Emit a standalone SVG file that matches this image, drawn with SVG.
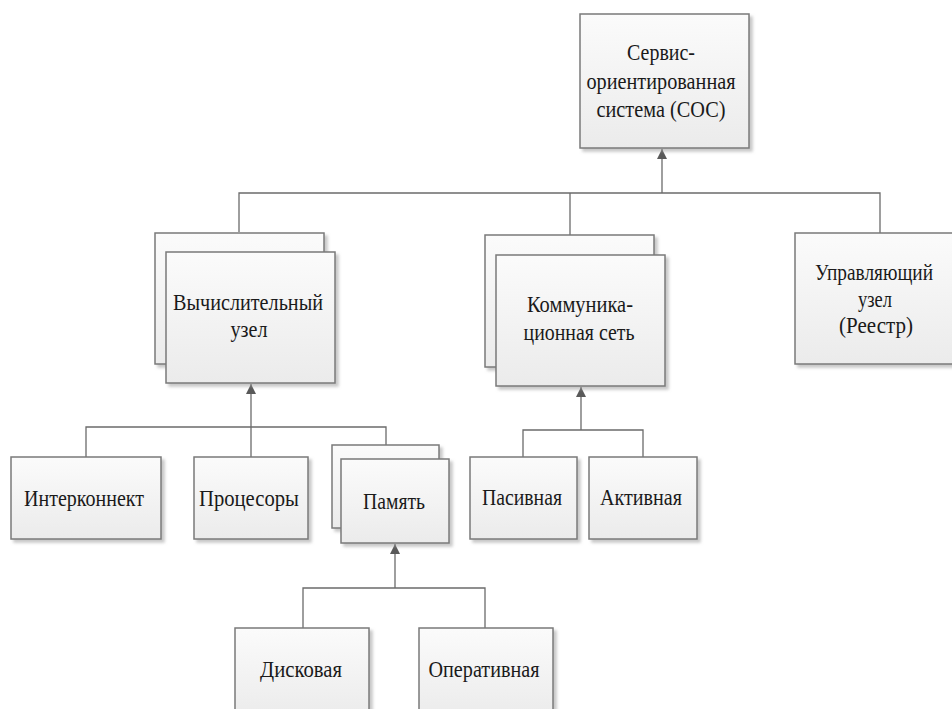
<svg xmlns="http://www.w3.org/2000/svg" width="952" height="709" viewBox="0 0 952 709">
<defs>
<linearGradient id="g" x1="0" y1="0" x2="0" y2="1">
<stop offset="0" stop-color="#fbfbfb"/>
<stop offset="1" stop-color="#ebebeb"/>
</linearGradient>
<filter id="sh" x="-10%" y="-10%" width="130%" height="130%">
<feDropShadow dx="3" dy="3" stdDeviation="1.5" flood-color="#9a9a9a" flood-opacity="0.55"/>
</filter>
<marker id="arr" viewBox="0 0 10 10" refX="10" refY="5" markerWidth="10" markerHeight="10" markerUnits="userSpaceOnUse" orient="auto">
<path d="M0,0 L10,5 L0,10 z" fill="#595959"/>
</marker>
<style>
.box{fill:url(#g);stroke:#7a7a7a;stroke-width:1.5;filter:url(#sh)}
.c{fill:none;stroke:#6b6b6b;stroke-width:1.3}
</style>
</defs>
<rect width="952" height="709" fill="#ffffff"/>
<g id="connectors">
<path class="c" d="M239,232 V193 H880 V233 M570,193 V235"/>
<path class="c" d="M662,193 V149" marker-end="url(#arr)"/>
<path class="c" d="M86,457 V427 H386 V445 M251,457 V427"/>
<path class="c" d="M251,427 V384" marker-end="url(#arr)"/>
<path class="c" d="M523,457 V430 H643 V457"/>
<path class="c" d="M581,430 V387" marker-end="url(#arr)"/>
<path class="c" d="M303,628 V588 H485 V628"/>
<path class="c" d="M395,588 V544" marker-end="url(#arr)"/>
</g>
<g font-family="Liberation Serif, Times New Roman, serif" font-size="23" fill="#1a1a1a" text-anchor="middle">
<g id="soc">
<rect class="box" x="580" y="14" width="169" height="134"/>
<text x="661" y="60" textLength="68" lengthAdjust="spacingAndGlyphs">Сервис-</text>
<text x="661" y="89" textLength="149" lengthAdjust="spacingAndGlyphs">ориентированная</text>
<text x="661" y="117" textLength="129" lengthAdjust="spacingAndGlyphs">система (СОС)</text>
</g>
<g id="compute">
<rect class="box" x="155" y="233" width="169" height="131"/>
<rect class="box" x="166" y="252" width="169" height="131"/>
<text x="248" y="310" textLength="150" lengthAdjust="spacingAndGlyphs">Вычислительный</text>
<text x="249" y="337" textLength="37" lengthAdjust="spacingAndGlyphs">узел</text>
</g>
<g id="network">
<rect class="box" x="485" y="235" width="169" height="132"/>
<rect class="box" x="496" y="255" width="169" height="131"/>
<text x="580" y="312" textLength="106" lengthAdjust="spacingAndGlyphs">Коммуника-</text>
<text x="579" y="340" textLength="111" lengthAdjust="spacingAndGlyphs">ционная сеть</text>
</g>
<g id="control">
<rect class="box" x="795" y="233" width="169" height="131"/>
<text x="874" y="280" textLength="118" lengthAdjust="spacingAndGlyphs">Управляющий</text>
<text x="875" y="307" textLength="34" lengthAdjust="spacingAndGlyphs">узел</text>
<text x="876" y="333" textLength="74" lengthAdjust="spacingAndGlyphs">(Реестр)</text>
</g>
<g id="interconnect">
<rect class="box" x="11" y="457" width="150" height="82"/>
<text x="84" y="506" textLength="120" lengthAdjust="spacingAndGlyphs">Интерконнект</text>
</g>
<g id="cpu">
<rect class="box" x="194" y="457" width="114" height="82"/>
<text x="249" y="506" textLength="100" lengthAdjust="spacingAndGlyphs">Процесоры</text>
</g>
<g id="memory">
<rect class="box" x="332" y="445" width="107" height="83"/>
<rect class="box" x="341" y="459" width="108" height="84"/>
<text x="394" y="509" textLength="62" lengthAdjust="spacingAndGlyphs">Память</text>
</g>
<g id="passive">
<rect class="box" x="470" y="457" width="107" height="82"/>
<text x="522" y="505" textLength="80" lengthAdjust="spacingAndGlyphs">Пасивная</text>
</g>
<g id="active">
<rect class="box" x="589" y="457" width="108" height="82"/>
<text x="641" y="505" textLength="82" lengthAdjust="spacingAndGlyphs">Активная</text>
</g>
<g id="disk">
<rect class="box" x="235" y="628" width="134" height="90"/>
<text x="301" y="677" textLength="82" lengthAdjust="spacingAndGlyphs">Дисковая</text>
</g>
<g id="ram">
<rect class="box" x="419" y="628" width="134" height="90"/>
<text x="484" y="677" textLength="111" lengthAdjust="spacingAndGlyphs">Оперативная</text>
</g>
</g>
</svg>
